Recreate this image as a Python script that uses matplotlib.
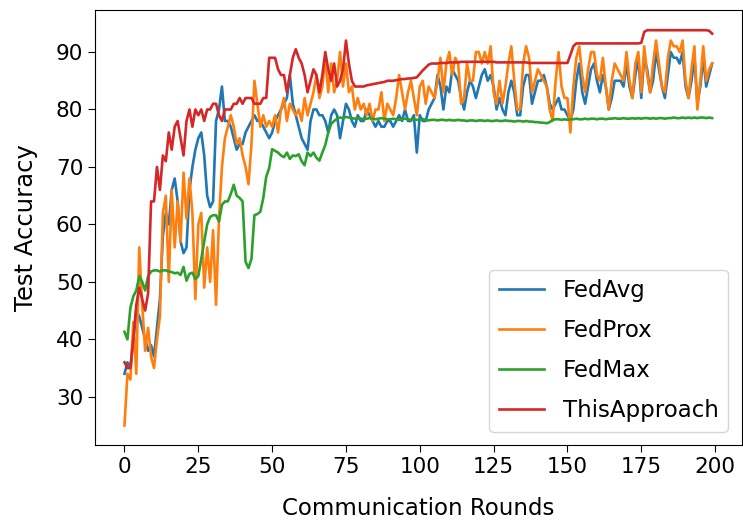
import numpy as np
import matplotlib
matplotlib.use("Agg")
import matplotlib.pyplot as plt

# test accuracy per communication round
rounds = np.arange(200)

fedavg = [34, 36, 35, 40, 45, 44, 42, 40, 38, 39,
          37, 42, 47, 58, 62, 60, 66, 68, 64, 57,
          55, 56, 66, 70, 73, 75, 76, 72, 65, 63,
          64, 78, 80, 84, 78, 78, 77, 75, 73, 74,
          74, 76, 77, 78, 79, 78, 78, 77, 76, 75,
          76, 78, 79, 80, 81, 82, 86, 81, 79, 77,
          75, 74, 73, 78, 80, 80, 79, 79, 78, 76,
          79, 80, 79, 75, 78, 81, 80, 78, 77, 79,
          78, 78, 80, 79, 78, 77, 78, 77, 77, 78,
          78, 77, 78, 79, 78, 80, 78, 78, 79, 72.5,
          79, 78, 78, 80, 81, 82, 86, 84, 80, 84,
          83, 87, 86, 85, 82, 80, 83, 85, 84, 82,
          84, 86, 87, 85, 86, 84, 80, 82, 80, 79,
          83, 85, 83, 79, 79, 84, 86, 86, 81, 83,
          85, 85, 86, 84, 81, 80, 81, 82, 80, 80,
          79, 78, 80, 85, 88, 83, 81, 84, 87, 88,
          85, 83, 86, 84, 80, 82, 85, 85, 85, 84,
          88, 84, 82, 86, 89, 82, 89, 87, 83, 85,
          90, 87, 84, 82, 86, 90, 89, 89, 88, 90,
          84, 82, 85, 89, 81, 84, 89, 84, 86, 88]

fedprox = [25, 34, 33, 43, 34, 56, 46, 38, 42, 37,
           35, 40, 44, 62, 65, 50, 66, 56, 64, 57,
           69, 61, 68, 62, 47, 60, 62, 49, 56, 50,
           59, 46, 61, 70, 75, 77, 79, 77, 74, 75,
           72, 70, 67, 74, 85, 81, 77, 79, 77, 78,
           77, 79, 76, 80, 82, 78, 81, 80, 79, 80,
           78, 82, 79, 81, 83, 86, 82, 84, 89, 83,
           88, 83, 85, 90, 84, 88, 83, 84, 80, 82,
           80, 81, 79, 81, 78, 80, 80, 83, 78, 81,
           80, 79, 82, 86, 83, 80, 83, 85, 82, 79,
           84, 85, 81, 84, 83, 82, 85, 89, 83, 88,
           90, 86, 89, 88, 81, 82, 88, 85, 85, 90,
           90, 88, 90, 88, 91, 83, 81, 85, 81, 84,
           88, 91, 85, 80, 80, 88, 91, 89, 83, 85,
           87, 86, 85, 84, 80, 78, 85, 90, 84, 82,
           82, 76, 84, 89, 91, 86, 83, 87, 90, 90,
           86, 85, 89, 84, 80, 85, 88, 87, 86, 85,
           90, 85, 82, 88, 90, 83, 91, 86, 83, 88,
           92, 88, 84, 83, 89, 92, 91, 91, 90, 92,
           85, 82, 87, 91, 80, 85, 91, 85, 87, 88]

fedmax = [41.3, 40, 45.5, 47.5, 48.5, 51, 50, 48.5, 51, 51.8,
          52, 52, 51.8, 52, 52, 51.8, 51.7, 51.5, 51.6, 51.2,
          52.6, 50.2, 51.4, 51.6, 50.5, 51, 54, 57, 60, 61.3,
          61.6, 61.6, 60.5, 63.4, 64, 64, 65.3, 66.9, 65, 64.6,
          64, 53.5, 52.4, 54, 61.6, 61.8, 62.2, 64.6, 68.3, 69.8,
          73.1, 72.8, 72.5, 72, 71.7, 72.5, 71.4, 72, 71.9, 72.2,
          71, 70.3, 72.5, 71.9, 72.5, 71.6, 71.1, 72.5, 73.8, 76,
          77.5, 78, 78.4, 78.6, 78.5, 78.7, 78.6, 78.5, 78.4, 78.5,
          78.4, 78.3, 78.4, 78.5, 78.4, 78.3, 78.4, 78.5, 78.4, 78.3,
          78.3, 78.4, 78.3, 78.2, 78.3, 78.4, 78.3, 78.2, 78.3, 78.2,
          78.2, 78.3, 78.2, 78.1, 78.2, 78.2, 78.1, 78.2, 78.2, 78.1,
          78.2, 78.1, 78.1, 78.2, 78.1, 78.1, 78.0, 78.1, 78.1, 78.0,
          78.1, 78.1, 78.0, 78.1, 78.0, 78.0, 78.1, 78.0, 78.0, 78.1,
          78.0, 78.0, 77.9, 78.0, 78.0, 77.9, 78.0, 77.9, 77.9, 77.8,
          77.8, 77.7, 77.7, 77.6, 77.8, 78.2, 78.3, 78.3, 78.2, 78.3,
          78.2, 78.3, 78.3, 78.4, 78.3, 78.3, 78.4, 78.3, 78.4, 78.4,
          78.3, 78.4, 78.4, 78.3, 78.4, 78.4, 78.5, 78.4, 78.4, 78.5,
          78.4, 78.4, 78.5, 78.4, 78.5, 78.4, 78.5, 78.5, 78.4, 78.5,
          78.4, 78.5, 78.5, 78.4, 78.5, 78.5, 78.6, 78.5, 78.5, 78.6,
          78.5, 78.6, 78.5, 78.6, 78.5, 78.6, 78.6, 78.5, 78.6, 78.5]

this_approach = [36, 35, 35, 40, 46, 49, 47, 45, 48, 64,
                 64, 70, 66, 72, 71, 76, 73, 77, 78, 75,
                 72, 78, 80, 77, 80, 79, 80, 78, 80, 80,
                 81, 81, 79, 78, 80, 80, 80, 81, 81, 82,
                 81, 82, 82, 82, 81, 81, 81, 82, 82, 89,
                 89, 89, 87, 86, 86, 83, 86, 89, 90.5, 89,
                 88, 86, 83, 85, 87, 86, 83, 86, 90, 87,
                 85, 88, 84, 85, 87, 92, 88, 85, 84, 84,
                 84, 84, 84.2, 84.3, 84.4, 84.5, 84.6, 84.7, 84.8, 85,
                 85, 85, 85.1, 85.2, 85.3, 85.3, 85.4, 85.4, 85.5, 85.6,
                 86.2, 86.8, 87.3, 87.8, 88, 88, 88, 88.1, 88.1, 88.1,
                 88.2, 88.2, 88.2, 88.2, 88.3, 88.3, 88.3, 88.3, 88.3, 88.3,
                 88.3, 88.3, 88.3, 88.3, 88.3, 88.3, 88.2, 88.2, 88.2, 88.2,
                 88.2, 88.2, 88.2, 88.2, 88.2, 88.2, 88.2, 88.1, 88.1, 88.1,
                 88.1, 88.1, 88.1, 88.1, 88.1, 88.1, 88.1, 88.1, 88.1, 88.1,
                 88.1, 89.5, 91, 91.5, 91.5, 91.5, 91.5, 91.5, 91.5, 91.5,
                 91.5, 91.5, 91.5, 91.5, 91.5, 91.5, 91.5, 91.5, 91.5, 91.5,
                 91.5, 91.5, 91.5, 91.5, 91.5, 91.6, 93.5, 93.8, 93.8, 93.8,
                 93.8, 93.8, 93.8, 93.8, 93.8, 93.8, 93.8, 93.8, 93.8, 93.8,
                 93.8, 93.8, 93.8, 93.8, 93.8, 93.8, 93.8, 93.8, 93.7, 93.2]

fig = plt.figure(figsize=(7.43, 5.22), dpi=100)
ax = fig.add_axes([0.128, 0.147, 0.870, 0.833])

lw = 1.9
ax.plot(rounds, fedavg, label="FedAvg", lw=lw)
ax.plot(rounds, fedprox, label="FedProx", lw=lw)
ax.plot(rounds, fedmax, label="FedMax", lw=lw)
ax.plot(rounds, this_approach, label="ThisApproach", lw=lw)

ax.set_xlabel("Communication Rounds", fontsize=16.5, labelpad=14)
ax.set_ylabel("Test Accuracy", fontsize=17.5, labelpad=13)
ax.tick_params(labelsize=15.5, length=5)
ax.legend(loc="lower right", fontsize=16.5, labelspacing=0.75,
          borderaxespad=0.6)

plt.savefig("out.png", dpi=100)
